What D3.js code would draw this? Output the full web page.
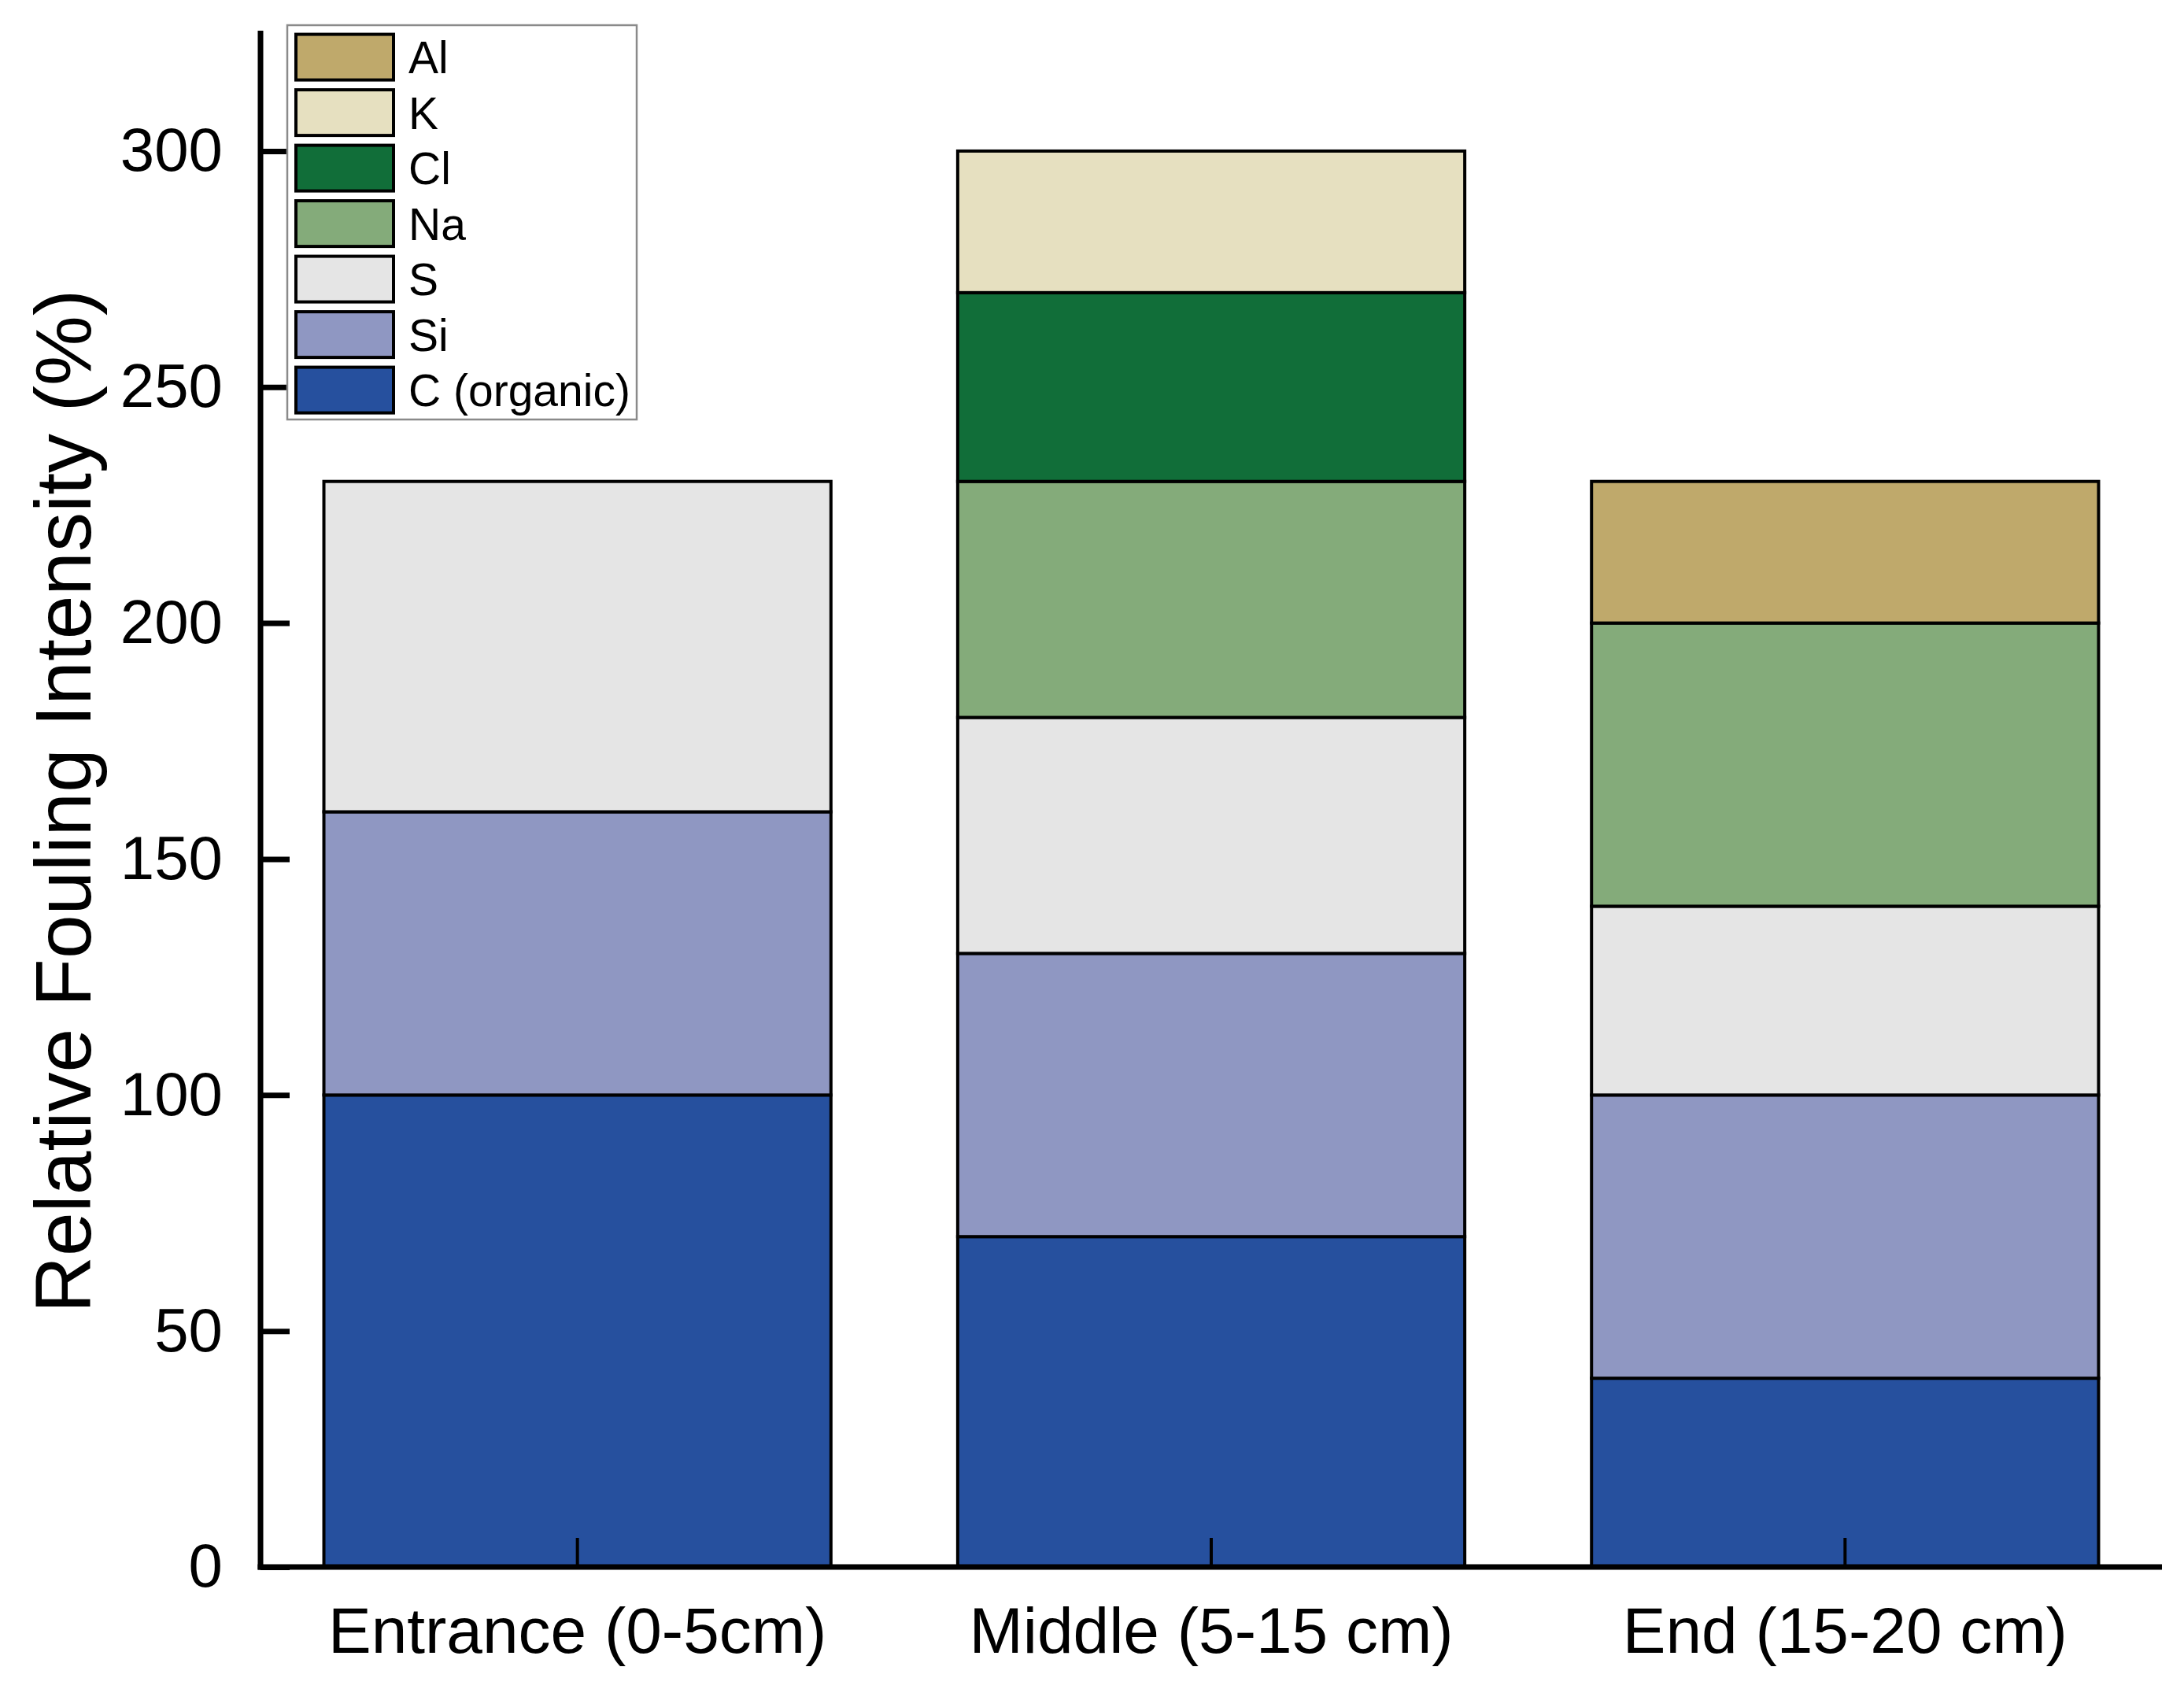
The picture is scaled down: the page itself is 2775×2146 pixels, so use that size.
<!DOCTYPE html>
<html>
<head>
<meta charset="utf-8">
<script src="https://cdn.jsdelivr.net/npm/d3@7"></script>
<style>
  html, body { margin: 0; padding: 0; background: #fff; }
  svg { display: block; }
  text { font-family: "Liberation Sans", Arial, Helvetica, sans-serif; fill: #000; }
</style>
</head>
<body>
<svg id="chart" width="2775" height="2146"></svg>
<script>
// ---- data ----
const categories = ["Entrance (0-5cm)", "Middle (5-15 cm)", "End (15-20 cm)"];
const elements = ["C (organic)", "Si", "S", "Na", "Cl", "K", "Al"];
const colors = ["#26509E", "#8F97C2", "#E5E5E5", "#84AB7A", "#116E39", "#E6E0C0", "#BFA96B"];
const C_organic = [100, 70, 40];
const Si = [60, 60, 60];
const S = [70, 50, 40];
const Na = [0, 50, 60];
const Cl = [0, 40, 0];
const K = [0, 30, 0];
const Al = [0, 0, 30];
const seriesValues = [C_organic, Si, S, Na, Cl, K, Al];
const yTicks = [0, 50, 100, 150, 200, 250, 300];
const yTitle = "Relative Fouling Intensity (%)";

// ---- layout ----
const svg = d3.select("#chart");
const mLeft = 331, mRight = 2747, mBottom = 1991, mTop = 39;

const x = d3.scaleBand().domain(categories).range([mLeft, mRight]).paddingInner(0.2).paddingOuter(0.1);
const y = d3.scaleLinear().domain([0, 325.5]).range([mBottom, mTop]);

// table for stacking
const table = categories.map((c, i) => {
  const row = { cat: c };
  elements.forEach((e, j) => { row[e] = seriesValues[j][i]; });
  return row;
});
const stacked = d3.stack().keys(elements)(table);
const color = d3.scaleOrdinal().domain(elements).range(colors);

// bars
const g = svg.append("g");
stacked.forEach(layer => {
  g.selectAll(null)
    .data(layer.filter(d => d[1] - d[0] > 0))
    .enter().append("rect")
    .attr("x", d => x(d.data.cat))
    .attr("width", x.bandwidth())
    .attr("y", d => y(d[1]))
    .attr("height", d => y(d[0]) - y(d[1]))
    .attr("fill", color(layer.key))
    .attr("stroke", "#000")
    .attr("stroke-width", 4);
});

// y axis
const yAxis = d3.axisLeft(y).tickValues(yTicks).tickSize(0).tickPadding(48);
const yg = svg.append("g").attr("transform", `translate(${mLeft},0)`).call(yAxis);
yg.select(".domain").remove();
yg.selectAll("text").attr("font-size", 78).style("font-family", "'Liberation Sans', Arial, sans-serif");
yg.selectAll(".tick").append("line")
  .attr("x1", 0).attr("x2", 37).attr("y1", 0).attr("y2", 0)
  .attr("stroke", "#000").attr("stroke-width", 7);

// x axis
const xAxis = d3.axisBottom(x).tickSize(0).tickPadding(50);
const xg = svg.append("g").attr("transform", `translate(0,${mBottom})`).call(xAxis);
xg.select(".domain").remove();
xg.selectAll("text").attr("font-size", 82).attr("dy", "0.72em").style("font-family", "'Liberation Sans', Arial, sans-serif");
xg.selectAll(".tick").append("line")
  .attr("x1", 0).attr("x2", 0).attr("y1", 0).attr("y2", -37)
  .attr("stroke", "#000").attr("stroke-width", 4);

// axis lines
svg.append("line").attr("x1", mLeft).attr("x2", mLeft).attr("y1", mTop).attr("y2", mBottom + 3.5)
  .attr("stroke", "#000").attr("stroke-width", 7);
svg.append("line").attr("x1", mLeft - 3.5).attr("x2", mRight).attr("y1", mBottom).attr("y2", mBottom)
  .attr("stroke", "#000").attr("stroke-width", 7);

// y title
svg.append("text")
  .attr("transform", `translate(115,1018) rotate(-90)`)
  .attr("text-anchor", "middle")
  .attr("font-size", 100)
  .text(yTitle);

// legend
const legendOrder = elements.slice().reverse();
const lg = svg.append("g");
lg.append("rect").attr("x", 365).attr("y", 32).attr("width", 444).attr("height", 501)
  .attr("fill", "#fff").attr("stroke", "#8a8a8a").attr("stroke-width", 2.5);
legendOrder.forEach((e, i) => {
  const cy = 72.6 + i * 70.5;
  lg.append("rect").attr("x", 376).attr("y", cy - 29).attr("width", 124).attr("height", 58)
    .attr("fill", color(e)).attr("stroke", "#000").attr("stroke-width", 4);
  lg.append("text").attr("x", 519).attr("y", cy).attr("dy", "0.36em")
    .attr("font-size", 57).text(e);
});
</script>
</body>
</html>
